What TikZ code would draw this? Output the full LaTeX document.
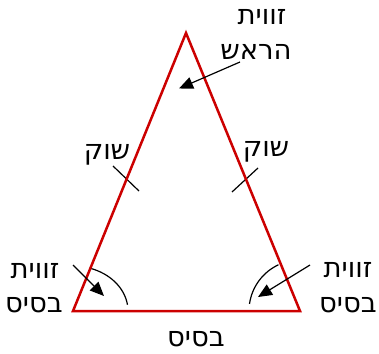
\documentclass[tikz,border=0pt]{standalone}
\usepackage{fontspec}
\newfontfamily\hebfont[Script=Hebrew]{DejaVu Sans}
\TeXXeTstate=1
\usetikzlibrary{arrows.meta}
\definecolor{trired}{RGB}{204,0,0}
\tikzset{
  side/.style={trired, line width=2.5pt},
  thinline/.style={black, line width=1.2pt},
  pointer/.style={black, line width=1.2pt, -{Triangle[length=14pt,width=12pt]}},
  lbl/.style={font=\hebfont\fontsize{27.5}{32}\selectfont, inner sep=0pt, anchor=base},
}
\begin{document}
\begin{tikzpicture}[x=1pt,y=-1pt]
\useasboundingbox (0,0) rectangle (379,353);
\coordinate (A) at (186,33);
\coordinate (B) at (73,311);
\coordinate (C) at (300,311);
% arcs
\draw[thinline] (A) ++(-111:72) arc[start angle=-111, end angle=-68, radius=72];
\draw[thinline] (B) ++(-72:{55 and 45}) arc[start angle=-72, end angle=-8, x radius=55, y radius=45];
\draw[thinline] (C) ++(-115:51) arc[start angle=-115, end angle=-172, radius=51];
% ticks
\coordinate (t1a) at (113,166); \coordinate (t1b) at (139,191);
\coordinate (t2a) at (258,168); \coordinate (t2b) at (232,192);
\draw[thinline] (t1a) -- (t1b);
\draw[thinline] (t2a) -- (t2b);
% triangle
\draw[side, line join=miter] (A) -- (B) -- (C) -- cycle;
% labels
\node[lbl] (top1) at (262,25) {\beginR זווית\endR};
\node[lbl] (top2) at (256,59) {\beginR הראש\endR};
\node[lbl] (legL) at (107,159) {\beginR שוק\endR};
\node[lbl] (legR) at (266,156) {\beginR שוק\endR};
\node[lbl] (bl1) at (35,278) {\beginR זווית\endR};
\node[lbl] (bl2) at (34,312) {\beginR בסיס\endR};
\node[lbl] (br1) at (348,277) {\beginR זווית\endR};
\node[lbl] (br2) at (348,312) {\beginR בסיס\endR};
\node[lbl] (base) at (196,346) {\beginR בסיס\endR};
% pointers
\coordinate (p1s) at (240,62); \coordinate (p1e) at (179,88.5);
\coordinate (p2s) at (73,265); \coordinate (p2e) at (104,296);
\coordinate (p3s) at (310,265); \coordinate (p3e) at (258,297);
\draw[pointer] (p1s) -- (p1e);
\draw[pointer] (p2s) -- (p2e);
\draw[pointer] (p3s) -- (p3e);
\end{tikzpicture}
\end{document}
